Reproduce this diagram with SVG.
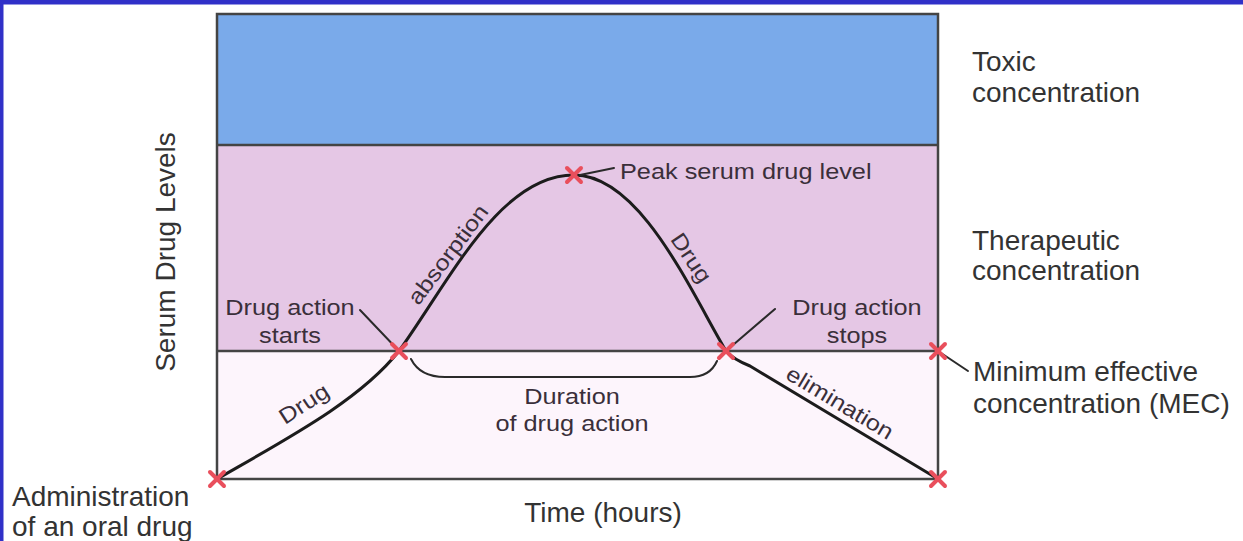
<svg xmlns="http://www.w3.org/2000/svg" width="1243" height="541" viewBox="0 0 1243 541">
<defs>
<style>
.outer{font-family:"Liberation Sans",Arial,Helvetica,sans-serif;font-size:28px;fill:#333;}
.inner{font-family:"Liberation Sans",Arial,Helvetica,sans-serif;font-size:22px;fill:#3a2f3a;}
.curve{fill:none;stroke:#1c1c1c;stroke-width:3;stroke-linecap:round;stroke-linejoin:round;}
.leader{fill:none;stroke:#2a2a2a;stroke-width:2;stroke-linecap:round;}
.frame{fill:none;stroke:#444;stroke-width:2.5;}
.xm{stroke:#e94f5c;stroke-width:4;stroke-linecap:round;}
</style>
<g id="xmark"><line class="xm" x1="-7" y1="-7" x2="7" y2="7"/><line class="xm" x1="-7" y1="7" x2="7" y2="-7"/></g>
</defs>
<rect x="0" y="0" width="1243" height="541" fill="#ffffff"/>
<rect x="0" y="0" width="1243" height="4.5" fill="#3030c8"/>
<rect x="0" y="0" width="3.5" height="541" fill="#3030c8"/>

<g id="zone-toxic"><rect x="217" y="14" width="721" height="131" fill="#7aaaea"/></g>
<g id="zone-therapeutic"><rect x="217" y="145" width="721" height="206" fill="#e5c7e5"/></g>
<g id="zone-sub"><rect x="217" y="351" width="721" height="128" fill="#fdf5fc"/></g>
<g id="frame">
<rect class="frame" x="217" y="14" width="721" height="465"/>
<line class="frame" x1="217" y1="145" x2="938" y2="145"/>
<line class="frame" x1="217" y1="351" x2="938" y2="351"/>
</g>

<g id="connectors">
<path class="curve" d="M217,479 C290,437 360,400 399,351"/>
<path class="curve" d="M399,351 C450,280 500,175 574,175"/>
<path class="curve" d="M574,175 C640,175 690,290 726,351"/>
<path class="curve" d="M726,351 C732,358 740,362 750,366 L938,479"/>
<path class="leader" d="M411,359 Q420,377 445,377 L690,377 Q710,377 717,361"/>
<line class="leader" x1="360" y1="310" x2="399" y2="351"/>
<line class="leader" x1="726" y1="351" x2="775" y2="309"/>
<line class="leader" x1="580" y1="175" x2="614" y2="168"/>
<line class="leader" x1="938" y1="351" x2="968" y2="371"/>
</g>

<g id="markers">
<use href="#xmark" x="217" y="479"/>
<use href="#xmark" x="399" y="351"/>
<use href="#xmark" x="574" y="175"/>
<use href="#xmark" x="726" y="351"/>
<use href="#xmark" x="938" y="351"/>
<use href="#xmark" x="938" y="479"/>
</g>

<g id="label-toxic"><text class="outer" x="972" y="71">Toxic</text><text class="outer" x="972" y="102">concentration</text></g>
<g id="label-therapeutic"><text class="outer" x="972" y="250">Therapeutic</text><text class="outer" x="972" y="280">concentration</text></g>
<g id="label-mec"><text class="outer" x="973" y="381">Minimum effective</text><text class="outer" x="973" y="413">concentration (MEC)</text></g>
<g id="label-admin"><text class="outer" x="12" y="506">Administration</text><text class="outer" x="12" y="536">of an oral drug</text></g>
<g id="label-time"><text class="outer" x="603" y="522" text-anchor="middle">Time (hours)</text></g>
<g id="label-yaxis"><text class="outer" transform="translate(175,252) rotate(-90)" text-anchor="middle">Serum Drug Levels</text></g>

<g id="label-peak"><text class="inner" transform="translate(620,179) scale(1.15,1)">Peak serum drug level</text></g>
<g id="label-starts"><text class="inner" text-anchor="middle" transform="translate(290,315) scale(1.15,1)">Drug action</text><text class="inner" text-anchor="middle" transform="translate(290,343) scale(1.15,1)">starts</text></g>
<g id="label-stops"><text class="inner" text-anchor="middle" transform="translate(857,315) scale(1.15,1)">Drug action</text><text class="inner" text-anchor="middle" transform="translate(857,343) scale(1.15,1)">stops</text></g>
<g id="label-duration"><text class="inner" text-anchor="middle" transform="translate(572,404) scale(1.15,1)">Duration</text><text class="inner" text-anchor="middle" transform="translate(572,431) scale(1.15,1)">of drug action</text></g>
<g id="label-drug1"><text class="inner" text-anchor="middle" transform="translate(308,410) rotate(-33) scale(1.15,1)">Drug</text></g>
<g id="label-absorption"><text class="inner" text-anchor="middle" transform="translate(454,259) rotate(-53) scale(1.15,1)">absorption</text></g>
<g id="label-drug2"><text class="inner" text-anchor="middle" transform="translate(685,262) rotate(56) scale(1.15,1)">Drug</text></g>
<g id="label-elimination"><text class="inner" text-anchor="middle" transform="translate(836,409) rotate(31) scale(1.15,1)">elimination</text></g>
</svg>
